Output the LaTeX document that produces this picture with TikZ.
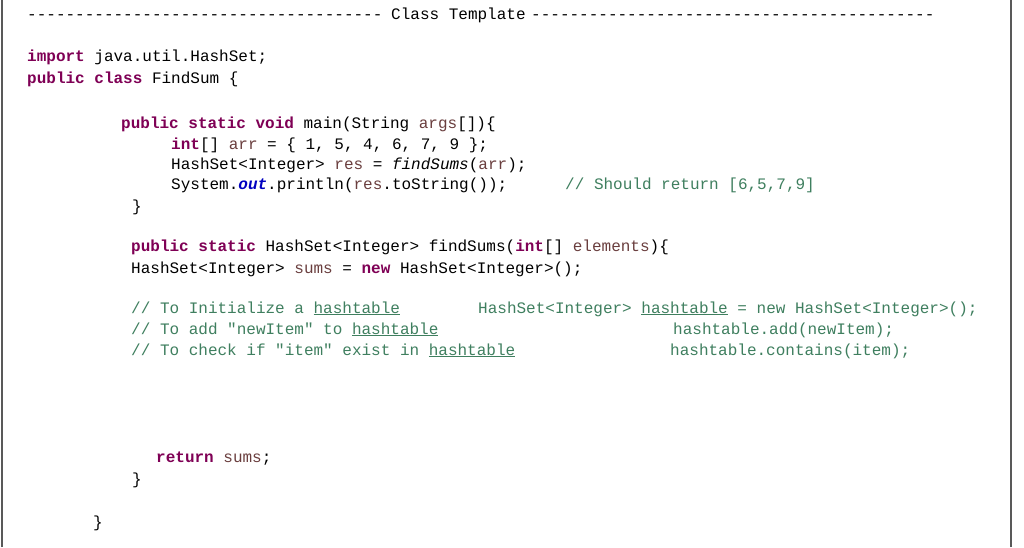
\documentclass[tikz,border=0pt]{standalone}
\usepackage{fontspec}
\newfontfamily\code{Liberation Mono}
\definecolor{kw}{HTML}{7F0055}
\definecolor{vr}{HTML}{6A3E3E}
\definecolor{cm}{HTML}{3F7F5F}
\definecolor{fl}{HTML}{0000C0}
\newcommand{\K}[1]{\textcolor{kw}{\bfseries #1}}
\newcommand{\V}[1]{\textcolor{vr}{#1}}
\newcommand{\U}[1]{\underline{#1}}
\begin{document}
\begin{tikzpicture}[x=1pt,y=1pt,
  ln/.style={anchor=base west,inner sep=0pt,font=\code\fontsize{16}{18}\selectfont},
  cmt/.style={ln,text=cm}]
\useasboundingbox (0,0) rectangle (1024,547);
\fill[white] (0,0) rectangle (1024,547);
\draw[gray!70!black,line width=1.2pt] (2,0) -- (2,547);
\draw[gray!70!black,line width=1.2pt] (1011,0) -- (1011,547);
\def\Y#1{\numexpr547-#1-5\relax}
\node[ln] (h1) at (27,{547-20}) {-------------------------------------};
\node[ln] (h2) at (391,{547-20}) {Class Template};
\node[ln] (h3) at (531,{547-20}) {------------------------------------------};
\node[ln] (l1) at (27,{547-62}) {\K{import} java.util.HashSet;};
\node[ln] (l2) at (27,{547-84}) {\K{public} \K{class} FindSum \{};
\node[ln] (l3) at (121,{547-129}) {\K{public} \K{static} \K{void} main(String \V{args}[])\{};
\node[ln] (l4) at (171,{547-150}) {\K{int}[] \V{arr} = \{ 1, 5, 4, 6, 7, 9 \};};
\node[ln] (l5) at (171,{547-170}) {HashSet<Integer> \V{res} = \textit{findSums}(\V{arr});};
\node[ln] (l6) at (171,{547-190}) {System.\textcolor{fl}{\bfseries\itshape out}.println(\V{res}.toString());};
\node[cmt] (c6) at (565,{547-190}) {// Should return [6,5,7,9]};
\node[ln] (l7) at (132,{547-212}) {\}};
\node[ln] (l8) at (131,{547-251}) {\K{public} \K{static} HashSet<Integer> findSums(\K{int}[] \V{elements})\{};
\node[ln] (l9) at (131,{547-273}) {HashSet<Integer> \V{sums} = \K{new} HashSet<Integer>();};
\node[cmt] (c1) at (131,{547-313}) {// To Initialize a \U{hashtable}};
\node[cmt] (d1) at (478,{547-313}) {HashSet<Integer> \U{hashtable} = new HashSet<Integer>();};
\node[cmt] (c2) at (131,{547-334}) {// To add "newItem" to \U{hashtable}};
\node[cmt] (d2) at (673,{547-334}) {hashtable.add(newItem);};
\node[cmt] (c3) at (131,{547-355}) {// To check if "item" exist in \U{hashtable}};
\node[cmt] (d3) at (670,{547-355}) {hashtable.contains(item);};
\node[ln] (l10) at (156,{547-462}) {\K{return} \V{sums};};
\node[ln] (l11) at (132,{547-484}) {\}};
\node[ln] (l12) at (93,{547-527}) {\}};
\end{tikzpicture}
\end{document}
